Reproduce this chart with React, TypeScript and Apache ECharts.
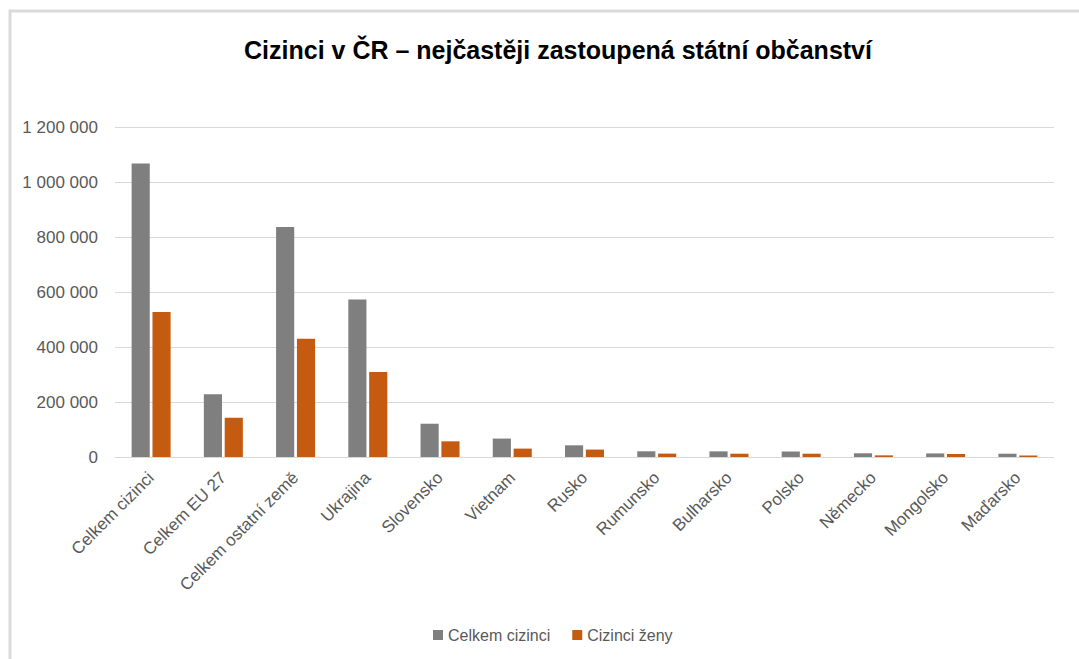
import React, { useEffect, useRef } from "react";
import * as echarts from "echarts";

const categories = [
  "Celkem cizinci",
  "Celkem EU 27",
  "Celkem ostatní země",
  "Ukrajina",
  "Slovensko",
  "Vietnam",
  "Rusko",
  "Rumunsko",
  "Bulharsko",
  "Polsko",
  "Německo",
  "Mongolsko",
  "Maďarsko",
];
const celkemCizinci = [1067000, 228000, 836000, 573000, 121000, 67000, 42500, 20700, 20500, 20000, 13500, 13000, 12000];
const ciziniZeny = [527000, 143000, 430000, 309000, 57000, 30500, 27000, 12300, 12000, 12000, 6000, 11000, 5500];
const yTicks = [0, 200000, 400000, 600000, 800000, 1000000, 1200000];

const TITLE = "Cizinci v ČR – nejčastěji zastoupená státní občanství";
const FONT = "'Liberation Sans Narrow', 'Liberation Sans', Arial, sans-serif";

function fmt(v: number): string {
  return String(Math.round(v)).replace(/\B(?=(\d{3})+(?!\d))/g, " ");
}

export default function App() {
  const ref = useRef<HTMLDivElement>(null);
  useEffect(() => {
    if (!ref.current) return;
    const chart = echarts.init(ref.current, undefined, { renderer: "svg" });
    chart.setOption({
      animation: false,
      backgroundColor: "#ffffff",
      title: {
        text: TITLE,
        left: 553,
        top: 32,
        textAlign: "center",
        textStyle: { fontFamily: FONT, fontSize: 25, fontWeight: "bold", color: "#000000" },
      },
      graphic: [
        { type: "line", shape: { x1: 9, y1: 11, x2: 1079, y2: 11 }, style: { stroke: "#dadada", lineWidth: 3 } },
        { type: "line", shape: { x1: 10, y1: 10, x2: 10, y2: 659 }, style: { stroke: "#dadada", lineWidth: 3 } },
      ],
      legend: {
        data: ["Celkem cizinci", "Cizinci ženy"],
        left: 428,
        top: 622,
        icon: "rect",
        itemWidth: 10,
        itemHeight: 10,
        itemGap: 22,
        textStyle: { fontFamily: FONT, fontSize: 16, color: "#595959" },
      },
      grid: { left: 115, right: 25, top: 127, bottom: 202, containLabel: false },
      xAxis: {
        type: "category",
        data: categories,
        axisLine: { show: true, lineStyle: { color: "#d9d9d9", width: 1 } },
        axisTick: { show: false },
        axisLabel: {
          rotate: 45,
          interval: 0,
          margin: 18,
          fontFamily: FONT,
          fontSize: 17,
          color: "#595959",
        },
      },
      yAxis: {
        type: "value",
        min: yTicks[0],
        max: yTicks[yTicks.length - 1],
        interval: 200000,
        axisLine: { show: false },
        axisTick: { show: false },
        splitLine: { lineStyle: { color: "#d9d9d9", width: 1 } },
        axisLabel: {
          margin: 17,
          fontFamily: FONT,
          fontSize: 17,
          color: "#595959",
          formatter: (v: number) => fmt(v),
        },
      },
      series: [
        {
          name: "Celkem cizinci",
          type: "bar",
          data: celkemCizinci,
          barCategoryGap: "46%",
          barGap: "15%",
          itemStyle: { color: "#7f7f7f" },
        },
        {
          name: "Cizinci ženy",
          type: "bar",
          data: ciziniZeny,
          barCategoryGap: "46%",
          barGap: "15%",
          itemStyle: { color: "#c55a11" },
        },
      ],
    });
    return () => chart.dispose();
  }, []);
  return <div ref={ref} style={{ width: 1079, height: 659, position: "absolute", left: 0, top: 0 }} />;
}
